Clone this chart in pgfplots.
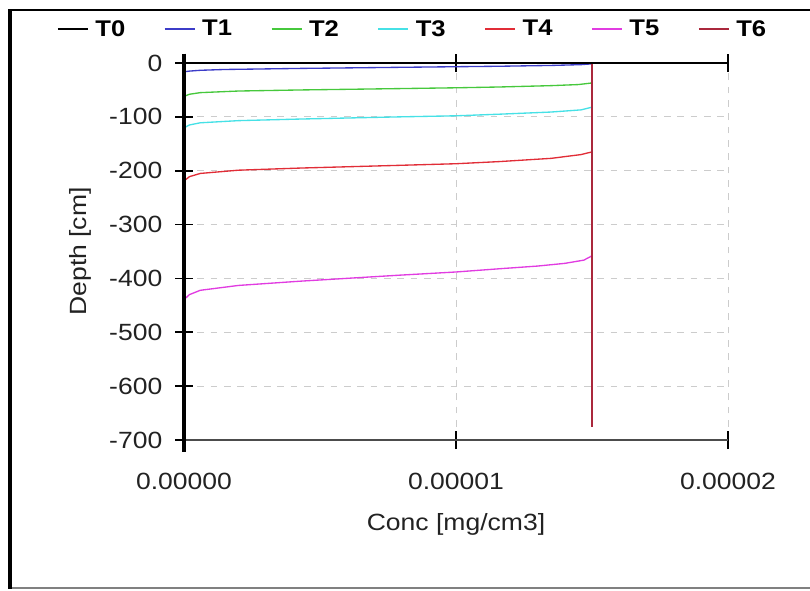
\documentclass[border=0pt]{standalone}
\usepackage{pgfplots}
\pgfplotsset{compat=1.18}
\usepackage{fontspec}
\setmainfont[FakeStretch=1.13]{Liberation Sans}
\definecolor{cT1}{RGB}{60,60,200}
\definecolor{cT2}{RGB}{70,200,60}
\definecolor{cT3}{RGB}{70,225,230}
\definecolor{cT4}{RGB}{225,45,55}
\definecolor{cT5}{RGB}{225,60,225}
\definecolor{cT6}{RGB}{170,40,60}
\definecolor{txt}{RGB}{34,34,34}
\begin{document}
\begin{tikzpicture}[x=1pt,y=1pt]
\useasboundingbox (0,0) rectangle (607.5,-442.5);
\draw[black, line width=1.5pt] (7.5,-7.5) -- (607.5,-7.5);
\draw[gray, line width=1.5pt] (7.5,-441) -- (607.5,-441);
\draw[black, line width=2.5pt] (7.5,-6.75) -- (7.5,-441.75);
\begin{axis}[
  name=ax,
  at={(138pt,-330pt)}, anchor=south west,
  scale only axis, width=408pt, height=282.75pt,
  clip=false,
  xmin=0, xmax=2e-5, ymin=-700, ymax=0,
  scaled x ticks=false,
  xtick={0,1e-5,2e-5},
  xticklabels={0.00000,0.00001,0.00002},
  ytick={-700,-600,-500,-400,-300,-200,-100,0},
  yticklabels={-700,-600,-500,-400,-300,-200,-100,0},
  xtick pos=both, ytick pos=left,
  xticklabel pos=lower, yticklabel pos=left,
  tick align=center, major tick length=13.5pt,
  tick style={black, line width=1.2pt},
  axis line style={draw=none},
  grid=major,
  major grid style={gray!40, line width=0.7pt, dash pattern=on 5pt off 5pt},
  ticklabel style={font=\fontsize{17.6}{20}\selectfont, text=txt},
  xticklabel style={anchor=north, yshift=-14.5pt},
  yticklabel style={anchor=east, xshift=-6pt},
  label style={font=\fontsize{17.6}{20}\selectfont, text=txt},
  xlabel={Conc [mg/cm3]},
  ylabel={Depth [cm]},
  xlabel style={at={(axis description cs:0.5,-0.225)}, anchor=center},
  ylabel style={at={(axis description cs:-0.19,0.5)}, anchor=center},
  legend columns=7,
  legend style={at={(axis description cs:0.4246,1.09)}, anchor=center,
    draw=none, fill=none, font=\fontsize{17}{19}\selectfont\bfseries,
    nodes={inner xsep=5pt},
    /tikz/every even column/.append style={column sep=24pt}},
  legend image code/.code={\draw[#1,line width=1.2pt] (0pt,0pt) -- (22.5pt,0pt);},
  every axis plot/.append style={line width=1pt},
]
\addplot[black] coordinates {(0,0) (0,-676)};
\addlegendentry{T0}
\addplot[cT1] coordinates {(1.5e-5,0) (1.5e-5,-1.5) (1.46e-5,-3) (1.35e-5,-4.5) (1.16e-5,-6) (0.79e-5,-8) (0.43e-5,-10) (0.15e-5,-12) (0.06e-5,-13.5) (0.02e-5,-15) (0.005e-5,-16) (0,-17) (0,-676)};
\addlegendentry{T1}
\addplot[cT2] coordinates {(1.5e-5,0) (1.5e-5,-37) (1.45e-5,-40) (1.35e-5,-42) (1.16e-5,-44.5) (1e-5,-46) (0.79e-5,-47.5) (0.43e-5,-50) (0.2e-5,-52) (0.06e-5,-55) (0.02e-5,-58) (0.005e-5,-61) (0,-63) (0,-676)};
\addlegendentry{T2}
\addplot[cT3] coordinates {(1.5e-5,0) (1.5e-5,-82) (1.46e-5,-87) (1.35e-5,-91) (1.16e-5,-95) (1e-5,-98) (0.79e-5,-100) (0.43e-5,-104) (0.2e-5,-107) (0.06e-5,-111) (0.02e-5,-115) (0.005e-5,-119) (0,-122) (0,-676)};
\addlegendentry{T3}
\addplot[cT4] coordinates {(1.5e-5,0) (1.5e-5,-165) (1.46e-5,-170) (1.35e-5,-177) (1.16e-5,-183) (1e-5,-187) (0.79e-5,-190) (0.43e-5,-195) (0.2e-5,-199) (0.06e-5,-205) (0.02e-5,-211) (0.005e-5,-217) (0,-221) (0,-676)};
\addlegendentry{T4}
\addplot[cT5] coordinates {(1.5e-5,0) (1.5e-5,-358) (1.47e-5,-366) (1.4e-5,-372) (1.3e-5,-377) (1.16e-5,-382) (1e-5,-388) (0.79e-5,-394) (0.43e-5,-405) (0.2e-5,-413) (0.06e-5,-422) (0.02e-5,-430) (0.005e-5,-437) (0,-441) (0,-676)};
\addlegendentry{T5}
\addplot[cT6] coordinates {(1.5e-5,0) (1.5e-5,-676)};
\addlegendentry{T6}
\end{axis}
\draw[black, line width=1.5pt] (ax.north west) -- (ax.north east);
\draw[black!70, line width=1.5pt] (ax.south west) -- (ax.south east);
\draw[black, line width=2.5pt] ([yshift=7pt]ax.north west) -- ([yshift=-9pt]ax.south west);
\end{tikzpicture}
\end{document}
